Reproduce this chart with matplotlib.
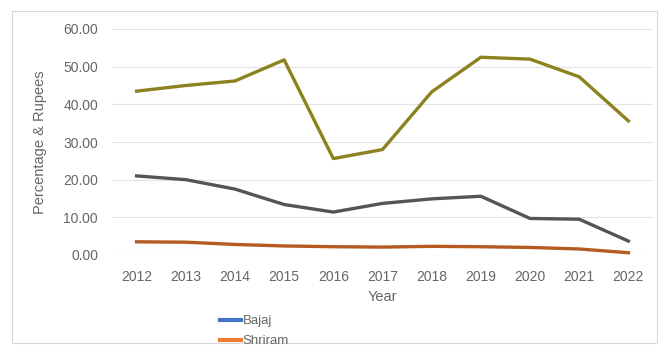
# -*- coding: utf-8 -*-
"""
Line chart - percentage & rupees by year
"""

import numpy as np
import matplotlib
matplotlib.use("Agg")
import matplotlib.pyplot as plt
from matplotlib.lines import Line2D
from matplotlib.patches import Rectangle

# data
years = [2012, 2013, 2014, 2015, 2016, 2017, 2018, 2019, 2020, 2021, 2022]
olive_series = [43.5, 45.0, 46.2, 51.8, 25.6, 28.0, 43.3, 52.5, 52.0, 47.3, 35.6]
gray_series = [21.0, 20.0, 17.5, 13.4, 11.4, 13.7, 14.9, 15.6, 9.7, 9.5, 3.7]
orange_series = [3.5, 3.4, 2.8, 2.4, 2.2, 2.1, 2.3, 2.2, 2.0, 1.6, 0.6]
legend_names = ['Bajaj', 'Shriram']

plt.rcParams['font.family'] = ['Liberation Sans', 'DejaVu Sans']
txt = '#666666'

fig = plt.figure(figsize=(6.61, 3.47), dpi=100)
fig.patch.set_facecolor('white')

# outer chart border
fig.patches.append(Rectangle((12 / 661, 1 - 343 / 347), 645 / 661, 332 / 347,
                             transform=fig.transFigure, fill=False,
                             edgecolor='#d9d9d9', linewidth=0.8))

ax = fig.add_axes([112 / 661, 1 - 255 / 347, 541 / 661, 226 / 347])
x = np.arange(len(years))

ax.plot(x, olive_series, color='#8c8220', linewidth=2.4, solid_joinstyle='round')
ax.plot(x, gray_series, color='#555555', linewidth=2.4, solid_joinstyle='round')
ax.plot(x, orange_series, color='#b55a22', linewidth=2.4, solid_joinstyle='round')

ax.set_xlim(-0.5, len(years) - 0.5)
ax.set_ylim(0, 60)
ax.set_yticks(np.arange(0, 61, 10))
ax.set_yticklabels(['%.2f' % v for v in np.arange(0, 61, 10)])
ax.set_xticks(x)
ax.set_xticklabels([str(y) for y in years])
ax.tick_params(axis='both', length=0, labelsize=10, colors=txt)
ax.tick_params(axis='x', pad=11)
ax.tick_params(axis='y', pad=10)
for s in ax.spines.values():
    s.set_visible(False)
ax.grid(axis='y', color='#e3e3e3', linewidth=0.8)
ax.set_axisbelow(True)

ax.set_ylabel('Percentage & Rupees', fontsize=10.5, color=txt, labelpad=12)
ax.set_xlabel('Year', fontsize=10.5, color=txt, labelpad=4)

handles = [Line2D([], [], color='#4472c4', linewidth=3),
           Line2D([], [], color='#ed7d31', linewidth=3)]
fig.legend(handles, legend_names, loc='upper left',
           bbox_to_anchor=(220 / 661, 1 - 315 / 347), frameon=False,
           fontsize=9.5, labelcolor=txt, handlelength=1.6, handletextpad=0.1,
           labelspacing=0.6, borderpad=0, borderaxespad=0)

plt.savefig('out.png', dpi=100)
